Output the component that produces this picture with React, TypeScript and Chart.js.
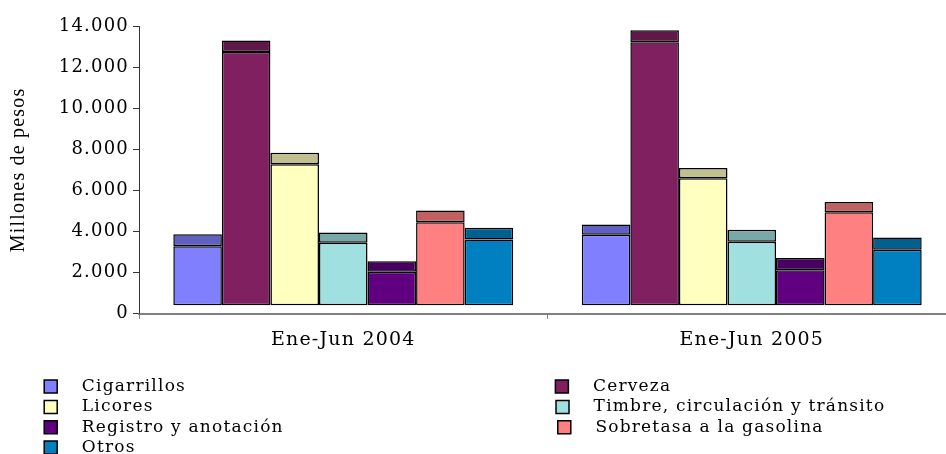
import React, { useEffect, useRef } from 'react';
import { Chart, registerables } from 'chart.js';

Chart.register(...registerables);

// ---------- data ----------
const categories = ['Ene-Jun 2004', 'Ene-Jun 2005'];
const seriesNames = [
  'Cigarrillos',
  'Cerveza',
  'Licores',
  'Timbre, circulación y tránsito',
  'Registro y anotación',
  'Sobretasa a la gasolina',
  'Otros',
];
// value at the top of each column's front face (millones de pesos)
const front2004 = [3280, 12730, 7270, 3460, 2050, 4450, 3620];
const front2005 = [3850, 13210, 6590, 3500, 2120, 4940, 3120];
// top edge of each column's 3D top face
const top2004 = [3870, 13290, 7830, 3960, 2560, 5030, 4190];
const top2005 = [4350, 13790, 7090, 4090, 2720, 5440, 3710];
// the 3D floor the columns stand on
const floorValue = 420;
const yTickLabels = ['0', '2.000', '4.000', '6.000', '8.000', '10.000', '12.000', '14.000'];

// ---------- styles ----------
const frontColors = ['#8080FF', '#802060', '#FFFFC0', '#A0E0E0', '#600080', '#FF8080', '#0080C0'];
const topColors = ['#6060C0', '#601848', '#C0C090', '#78A8A8', '#480060', '#C06060', '#006090'];
const SERIF = '"DejaVu Serif", serif';
const TIMES = '"Liberation Serif", serif';
const LETTER_SPACING = '1.2px';
const LEGEND_SIZE = 17;
const LEGEND_PAD = 3.3;
const LEGEND_BOX = 13;
const COL1_X = 46.7;
const COL2_X = 560.7;
const TEXT_GAP = 17.5;
const COL2_MIN_TEXT = 350;
const BAR_BORDER = 1.5;

const spacingPlugin = {
  id: 'letterSpacing',
  beforeUpdate(chart: any) {
    chart.ctx.letterSpacing = LETTER_SPACING;
  },
  beforeLayout(chart: any) {
    chart.ctx.letterSpacing = LETTER_SPACING;
  },
  beforeDraw(chart: any) {
    chart.ctx.letterSpacing = LETTER_SPACING;
  },
};

function legendLabels(chart: any) {
  const ctx = chart.ctx;
  ctx.save();
  ctx.font = `${LEGEND_SIZE}px ${SERIF}`;
  ctx.letterSpacing = LETTER_SPACING;
  const w = (t: string) => ctx.measureText(t).width;
  const padEnd = (t: string, target: number) => {
    let s = t;
    while (w(s + ' ') <= target) s += ' ';
    while (w(s + '\u200A') <= target) s += '\u200A';
    return s;
  };
  const half = LEGEND_SIZE / 2;
  const lead = padEnd('', TEXT_GAP);
  const spacer = padEnd('', COL1_X - 2 * LEGEND_PAD - LEGEND_BOX - half);
  const col1Target = COL2_X - COL1_X - LEGEND_PAD - LEGEND_BOX - half;
  const items: any[] = [];
  seriesNames.forEach((name, i) => {
    if (i % 2 === 0) {
      items.push({
        text: spacer,
        fillStyle: 'rgba(0,0,0,0)',
        strokeStyle: 'rgba(0,0,0,0)',
        lineWidth: 0,
        hidden: false,
        fontColor: '#000',
      });
    }
    const base = lead + name;
    const text = i % 2 === 0 ? padEnd(base, col1Target) : padEnd(base, COL2_MIN_TEXT);
    items.push({
      text,
      fillStyle: frontColors[i],
      strokeStyle: '#000',
      lineWidth: 1.5,
      hidden: false,
      datasetIndex: i * 2,
      fontColor: '#000',
    });
  });
  ctx.restore();
  return items;
}

export default function App() {
  const canvasRef = useRef<HTMLCanvasElement | null>(null);

  useEffect(() => {
    const canvas = canvasRef.current;
    if (!canvas) return;
    const datasets: any[] = [];
    seriesNames.forEach((name, i) => {
      const front = [front2004[i], front2005[i]];
      const tops = [top2004[i], top2005[i]];
      datasets.push({
        label: name,
        data: front,
        backgroundColor: frontColors[i],
        borderColor: '#000',
        borderWidth: BAR_BORDER,
        borderSkipped: false,
        inflateAmount: 0,
        base: floorValue,
        stack: 's' + i,
      });
      datasets.push({
        label: name + ' (cara superior)',
        data: tops.map((t, k) => t - front[k]),
        backgroundColor: topColors[i],
        borderColor: '#000',
        borderWidth: BAR_BORDER,
        borderSkipped: false,
        inflateAmount: 0,
        stack: 's' + i,
      });
    });

    const chart = new Chart(canvas, {
      type: 'bar',
      data: { labels: categories, datasets },
      plugins: [spacingPlugin],
      options: {
        responsive: false,
        devicePixelRatio: 1,
        animation: false,
        events: [],
        datasets: {
          bar: { categoryPercentage: 0.832, barPercentage: 1.0 },
        },
        layout: { padding: { top: 26, right: 4, left: 0, bottom: 0 } },
        plugins: {
          tooltip: { enabled: false },
          title: { display: false },
          legend: {
            display: true,
            position: 'bottom',
            align: 'start',
            labels: {
              boxWidth: LEGEND_BOX,
              boxHeight: LEGEND_BOX,
              padding: LEGEND_PAD,
              color: '#000',
              font: { family: SERIF, size: LEGEND_SIZE },
              generateLabels: legendLabels,
            },
          },
        },
        scales: {
          x: {
            offset: true,
            grid: {
              offset: true,
              drawOnChartArea: false,
              drawTicks: true,
              tickLength: 5,
              color: '#808080',
              lineWidth: 1,
            },
            border: { display: true, color: '#808080', width: 2 },
            ticks: {
              color: '#000',
              font: { family: SERIF, size: 19 },
              padding: 10,
              maxRotation: 0,
            },
            afterFit: (s: any) => {
              s.height = 61;
            },
          },
          y: {
            stacked: true,
            min: 0,
            max: 14000,
            ticks: {
              stepSize: 2000,
              color: '#000',
              font: { family: SERIF, size: 18 },
              padding: 4,
              callback: (_v: any, i: number) => yTickLabels[i],
            },
            grid: {
              drawOnChartArea: false,
              drawTicks: true,
              tickLength: 6,
              color: '#333',
            },
            border: { display: true, color: '#333', width: 1 },
            title: {
              display: true,
              text: 'Millones de pesos',
              color: '#000',
              font: { family: TIMES, size: 20 },
              padding: { top: 7, bottom: 0 },
            },
            afterFit: (s: any) => {
              s.width = 139;
            },
          },
        },
      } as any,
    });
    return () => chart.destroy();
  }, []);

  return (
    <div
      style={{
        position: 'fixed',
        left: 0,
        top: 0,
        width: 946,
        height: 454,
        overflow: 'hidden',
        background: '#fff',
      }}
    >
      <canvas ref={canvasRef} width={960} height={466} style={{ display: 'block' }} />
    </div>
  );
}
